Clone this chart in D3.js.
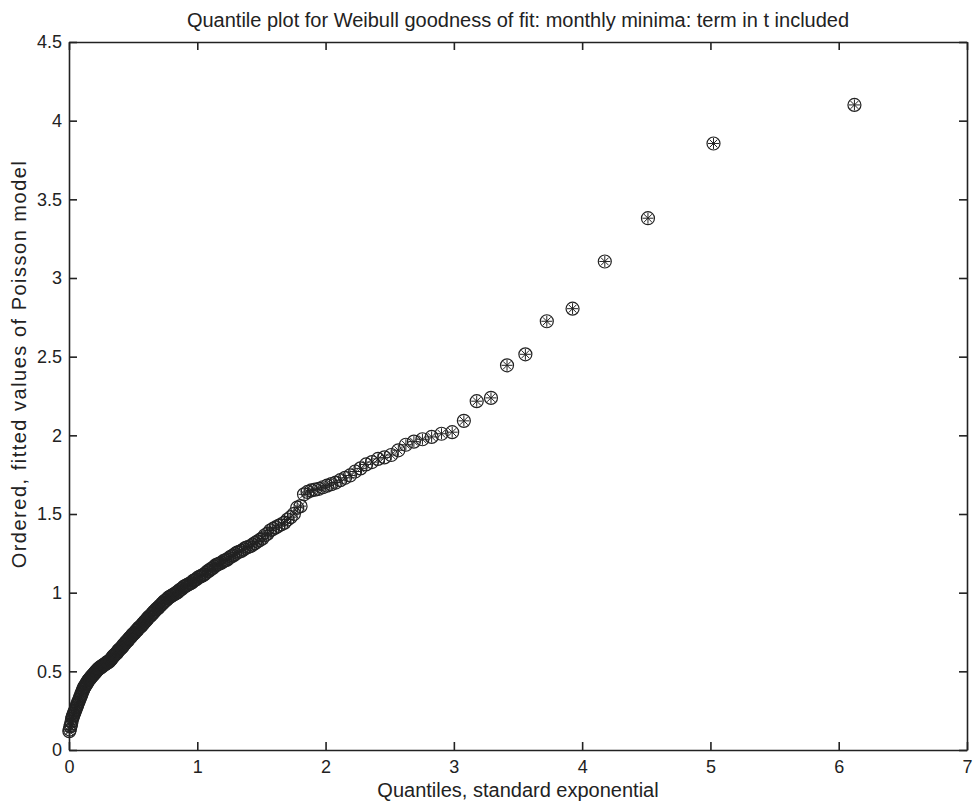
<!DOCTYPE html>
<head>
<meta charset="utf-8">
<style>
body { margin: 0; background: #fff; }
svg { font-family: "Liberation Sans", Arial, Helvetica, sans-serif; }
.axis path, .axis line { stroke: #222; stroke-width: 1.6px; }
.axis text { fill: #222; font-size: 18px; }
.mark circle { fill: none; stroke: #222; stroke-width: 1.2px; }
.mark line { stroke: #222; stroke-width: 1px; }
</style>
</head>
<body>
<svg width="974" height="804"></svg>
<script src="https://d3js.org/d3.v7.min.js"></script>
<script>
// exponential quantiles (x) of the 228 ordered monthly minima
var quantiles = [
  0.0022, 0.0066, 0.0110, 0.0155, 0.0199, 0.0244, 0.0289, 0.0334, 0.0380, 0.0426,
  0.0471, 0.0518, 0.0564, 0.0610, 0.0657, 0.0704, 0.0751, 0.0799, 0.0846, 0.0894,
  0.0942, 0.0991, 0.1039, 0.1088, 0.1137, 0.1186, 0.1236, 0.1286, 0.1335, 0.1386,
  0.1436, 0.1487, 0.1538, 0.1589, 0.1641, 0.1693, 0.1745, 0.1797, 0.1849, 0.1902,
  0.1955, 0.2009, 0.2062, 0.2116, 0.2171, 0.2225, 0.2280, 0.2335, 0.2391, 0.2447,
  0.2503, 0.2560, 0.2617, 0.2674, 0.2731, 0.2789, 0.2847, 0.2906, 0.2965, 0.3024,
  0.3083, 0.3143, 0.3203, 0.3264, 0.3325, 0.3386, 0.3448, 0.3510, 0.3573, 0.3636,
  0.3699, 0.3763, 0.3827, 0.3891, 0.3956, 0.4022, 0.4087, 0.4154, 0.4220, 0.4287,
  0.4355, 0.4423, 0.4491, 0.4560, 0.4630, 0.4700, 0.4770, 0.4841, 0.4912, 0.4984,
  0.5057, 0.5130, 0.5204, 0.5278, 0.5352, 0.5427, 0.5503, 0.5579, 0.5656, 0.5734,
  0.5812, 0.5891, 0.5970, 0.6050, 0.6131, 0.6212, 0.6294, 0.6377, 0.6460, 0.6544,
  0.6629, 0.6714, 0.6800, 0.6887, 0.6975, 0.7064, 0.7153, 0.7243, 0.7334, 0.7426,
  0.7519, 0.7612, 0.7706, 0.7801, 0.7897, 0.7994, 0.8092, 0.8191, 0.8291, 0.8392,
  0.8495, 0.8598, 0.8702, 0.8807, 0.8913, 0.9021, 0.9130, 0.9240, 0.9351, 0.9463,
  0.9577, 0.9692, 0.9808, 0.9926, 1.0045, 1.0165, 1.0287, 1.0411, 1.0536, 1.0662,
  1.0791, 1.0921, 1.1053, 1.1186, 1.1321, 1.1458, 1.1597, 1.1738, 1.1881, 1.2026,
  1.2172, 1.2321, 1.2473, 1.2627, 1.2783, 1.2942, 1.3103, 1.3267, 1.3434, 1.3603,
  1.3776, 1.3951, 1.4130, 1.4312, 1.4497, 1.4686, 1.4878, 1.5074, 1.5274, 1.5478,
  1.5686, 1.5899, 1.6116, 1.6339, 1.6566, 1.6798, 1.7036, 1.7280, 1.7530, 1.7787,
  1.8050, 1.8321, 1.8598, 1.8884, 1.9178, 1.9481, 1.9794, 2.0116, 2.0450, 2.0794,
  2.1151, 2.1522, 2.1907, 2.2307, 2.2724, 2.3158, 2.3613, 2.4089, 2.4589, 2.5115,
  2.5672, 2.6260, 2.6885, 2.7552, 2.8267, 2.9036, 2.9870, 3.0780, 3.1781, 3.2893,
  3.4144, 3.5575, 3.7245, 3.9253, 4.1766, 4.5130, 5.0239, 6.1225
];

// ordered fitted values (y)
var fitted = [
  0.12, 0.13, 0.15, 0.16, 0.18, 0.20, 0.21, 0.22, 0.23, 0.24,
  0.25, 0.26, 0.27, 0.28, 0.29, 0.30, 0.31, 0.32, 0.33, 0.34,
  0.35, 0.36, 0.37, 0.38, 0.39, 0.40, 0.405, 0.41, 0.42, 0.425,
  0.43, 0.44, 0.445, 0.45, 0.455, 0.46, 0.465, 0.47, 0.475, 0.48,
  0.485, 0.49, 0.495, 0.50, 0.505, 0.51, 0.515, 0.52, 0.52, 0.525,
  0.53, 0.53, 0.535, 0.54, 0.54, 0.545, 0.55, 0.55, 0.555, 0.56,
  0.56, 0.565, 0.57, 0.575, 0.58, 0.59, 0.595, 0.60, 0.605, 0.61,
  0.615, 0.62, 0.63, 0.635, 0.64, 0.645, 0.65, 0.655, 0.665, 0.67,
  0.675, 0.685, 0.69, 0.695, 0.70, 0.71, 0.715, 0.72, 0.73, 0.735,
  0.74, 0.745, 0.755, 0.76, 0.765, 0.775, 0.78, 0.785, 0.79, 0.80,
  0.805, 0.815, 0.82, 0.83, 0.835, 0.845, 0.85, 0.855, 0.865, 0.87,
  0.88, 0.885, 0.895, 0.90, 0.905, 0.915, 0.92, 0.93, 0.935, 0.945,
  0.95, 0.955, 0.965, 0.97, 0.975, 0.98, 0.985, 0.99, 0.995, 1.00,
  1.005, 1.015, 1.02, 1.025, 1.035, 1.04, 1.045, 1.05, 1.055, 1.06,
  1.065, 1.075, 1.08, 1.085, 1.095, 1.10, 1.105, 1.11, 1.115, 1.125,
  1.135, 1.14, 1.15, 1.155, 1.165, 1.175, 1.18, 1.185, 1.19, 1.20,
  1.205, 1.21, 1.22, 1.23, 1.235, 1.245, 1.255, 1.26, 1.265, 1.275,
  1.285, 1.29, 1.295, 1.305, 1.315, 1.325, 1.335, 1.345, 1.365, 1.375,
  1.395, 1.405, 1.415, 1.425, 1.435, 1.445, 1.465, 1.48, 1.50, 1.54,
  1.55, 1.625, 1.64, 1.65, 1.655, 1.66, 1.67, 1.68, 1.69, 1.70,
  1.715, 1.73, 1.745, 1.77, 1.79, 1.815, 1.83, 1.85, 1.86, 1.875,
  1.905, 1.94, 1.96, 1.975, 1.99, 2.01, 2.02, 2.092, 2.217, 2.238,
  2.445, 2.515, 2.725, 2.805, 3.105, 3.38, 3.855, 4.10
];

var xTicks = [0, 1, 2, 3, 4, 5, 6, 7];
var yTicks = [0, 0.5, 1, 1.5, 2, 2.5, 3, 3.5, 4, 4.5];

var title = "Quantile plot for Weibull goodness of fit: monthly minima: term in t included";
var xTitle = "Quantiles, standard exponential";
var yTitle = "Ordered, fitted values of Poisson model";

var svg = d3.select("svg"),
    margin = {top: 42, right: 7, bottom: 54, left: 69},
    width = +svg.attr("width") - margin.left - margin.right,
    height = +svg.attr("height") - margin.top - margin.bottom;

var g = svg.append("g").attr("transform", "translate(" + margin.left + "," + margin.top + ")");

var x = d3.scaleLinear().domain([0, 7]).range([0, width]);
var y = d3.scaleLinear().domain([0, 4.5]).range([height, 0]);

// axes, ticks pointing inwards like matlab
g.append("g").attr("class", "axis")
    .attr("transform", "translate(0," + height + ")")
    .call(d3.axisBottom(x).tickValues(xTicks).tickSize(-8).tickSizeOuter(0).tickPadding(10).tickFormat(d3.format("d")));
g.append("g").attr("class", "axis")
    .call(d3.axisTop(x).tickValues(xTicks).tickSize(-8).tickSizeOuter(0).tickFormat(""));
g.append("g").attr("class", "axis")
    .call(d3.axisLeft(y).tickValues(yTicks).tickSize(-8).tickSizeOuter(0).tickPadding(7).tickFormat(d3.format("")));
g.append("g").attr("class", "axis")
    .attr("transform", "translate(" + width + ",0)")
    .call(d3.axisRight(y).tickValues(yTicks).tickSize(-8).tickSizeOuter(0).tickFormat(""));

// points: circle with asterisk
var r = 6.5;
var pts = quantiles.map(function(q, i) { return [q, fitted[i]]; });
var mark = g.append("g").selectAll("g")
    .data(pts)
    .enter().append("g")
    .attr("class", "mark")
    .attr("transform", function(d) { return "translate(" + x(d[0]) + "," + y(d[1]) + ")"; });
mark.append("circle").attr("r", r);
[0, 45, 90, 135].forEach(function(a) {
  var t = a * Math.PI / 180, s = r * 0.85;
  mark.append("line")
      .attr("x1", -s * Math.cos(t)).attr("y1", -s * Math.sin(t))
      .attr("x2", s * Math.cos(t)).attr("y2", s * Math.sin(t));
});

// titles
svg.append("text")
    .attr("x", margin.left + width / 2).attr("y", 27)
    .attr("text-anchor", "middle").attr("font-size", 20).attr("fill", "#222")
    .text(title);
svg.append("text")
    .attr("x", margin.left + width / 2).attr("y", 797)
    .attr("text-anchor", "middle").attr("font-size", 20).attr("fill", "#222")
    .text(xTitle);
// rotated label comes out a little wider spaced in the original
svg.append("text")
    .attr("transform", "translate(26,364) rotate(-90)")
    .attr("text-anchor", "middle").attr("font-size", 20).attr("letter-spacing", 1.5).attr("fill", "#222")
    .text(yTitle);
</script>
</body>
